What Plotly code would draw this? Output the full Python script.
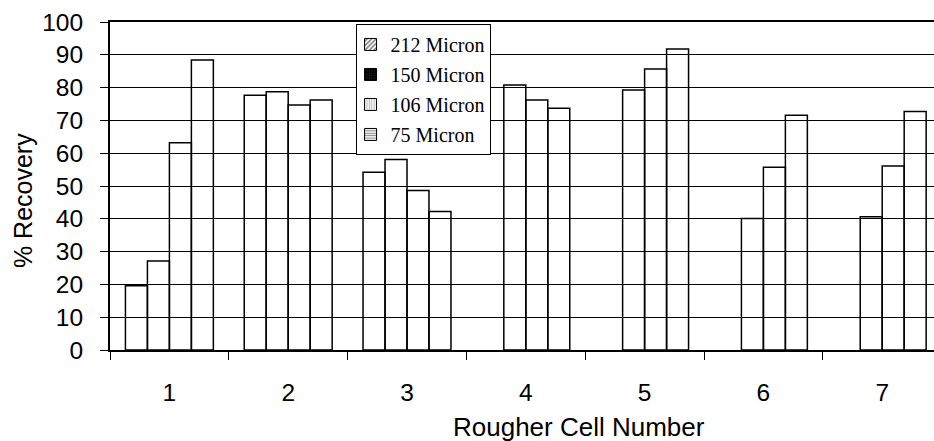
import plotly.graph_objects as go

# Rougher cell recovery by particle size
cells = ["1", "2", "3", "4", "5", "6", "7"]
rec_212 = [19.6, 77.7, 54.2, None, None, None, None]
rec_150 = [27.1, 78.7, 58.1, 80.8, 79.3, 40.1, 40.6]
rec_106 = [63.2, 74.7, 48.6, 76.2, 85.7, 55.7, 56.1]
rec_75 = [88.4, 76.2, 42.2, 73.7, 91.8, 71.6, 72.7]
y_ticks = [0, 10, 20, 30, 40, 50, 60, 70, 80, 90, 100]

series = [
    ("212 Micron", rec_212, dict(shape="/", fgcolor="black", bgcolor="white", size=4, solidity=0.5)),
    ("150 Micron", rec_150, dict(shape=".", fgcolor="#444444", bgcolor="black", size=3, solidity=0.3)),
    ("106 Micron", rec_106, dict(shape="|", fgcolor="#777777", bgcolor="white", size=3, solidity=0.5)),
    ("75 Micron", rec_75, dict(shape="-", fgcolor="black", bgcolor="white", size=3, solidity=0.45)),
]

fig = go.Figure()

# plain outlined bars (transparent so the gridlines read through them)
for name, vals, _ in series:
    fig.add_trace(go.Bar(
        x=cells, y=vals, name=name, showlegend=False,
        marker=dict(color="rgba(0,0,0,0)", line=dict(color="black", width=1.5)),
    ))

# legend swatches with fill patterns, on a hidden overlay axis pair
for i, (name, _, pat) in enumerate(series):
    fig.add_trace(go.Bar(
        x=[None], y=[None], name=name, xaxis="x2", yaxis="y2",
        legendgroup=f"g{i}", showlegend=True,
        marker=dict(color=pat["bgcolor"], pattern=pat, line=dict(color="black", width=1)),
    ))

sans = "Liberation Sans, Arial, sans-serif"
tick_font = dict(family=sans, size=24.5, color="black")

fig.update_layout(
    width=934, height=441,
    margin=dict(l=110, r=0, t=22, b=91),
    paper_bgcolor="white", plot_bgcolor="white",
    barmode="group", bargap=0.26, bargroupgap=0,
    showlegend=True,
    legend=dict(
        x=0.298, y=0.994, xanchor="left", yanchor="top",
        bgcolor="white", bordercolor="black", borderwidth=1,
        font=dict(family="Liberation Serif, Times New Roman, serif", size=20, color="black"),
        traceorder="grouped", tracegroupgap=1, itemwidth=30, indentation=-6,
    ),
    xaxis=dict(
        type="category", range=[-0.5, 6.436],
        tickson="boundaries", ticks="outside", ticklen=8, tickwidth=1, tickcolor="black",
        showline=True, linecolor="black", linewidth=2, mirror=True,
        showgrid=False, tickfont=tick_font, ticklabelstandoff=20,
    ),
    yaxis=dict(
        range=[0, 100], tickvals=y_ticks,
        ticks="outside", ticklen=8, tickwidth=1, tickcolor="black",
        showline=True, linecolor="black", linewidth=2,
        showgrid=True, gridcolor="black", gridwidth=1,
        zeroline=False, tickfont=tick_font, ticklabelstandoff=12,
    ),
    xaxis2=dict(overlaying="x", visible=False),
    yaxis2=dict(overlaying="y", visible=False),
    annotations=[
        dict(text="Rougher Cell Number", xref="paper", yref="paper",
             x=0.569, y=-0.235, xanchor="center", yanchor="middle", showarrow=False,
             font=dict(family=sans, size=26, color="black")),
        dict(text="% Recovery", xref="paper", yref="paper", textangle=-90,
             x=-0.1056, y=0.457, xanchor="center", yanchor="middle", showarrow=False,
             font=dict(family=sans, size=25, color="black")),
    ],
)

fig.write_html("out.html")
